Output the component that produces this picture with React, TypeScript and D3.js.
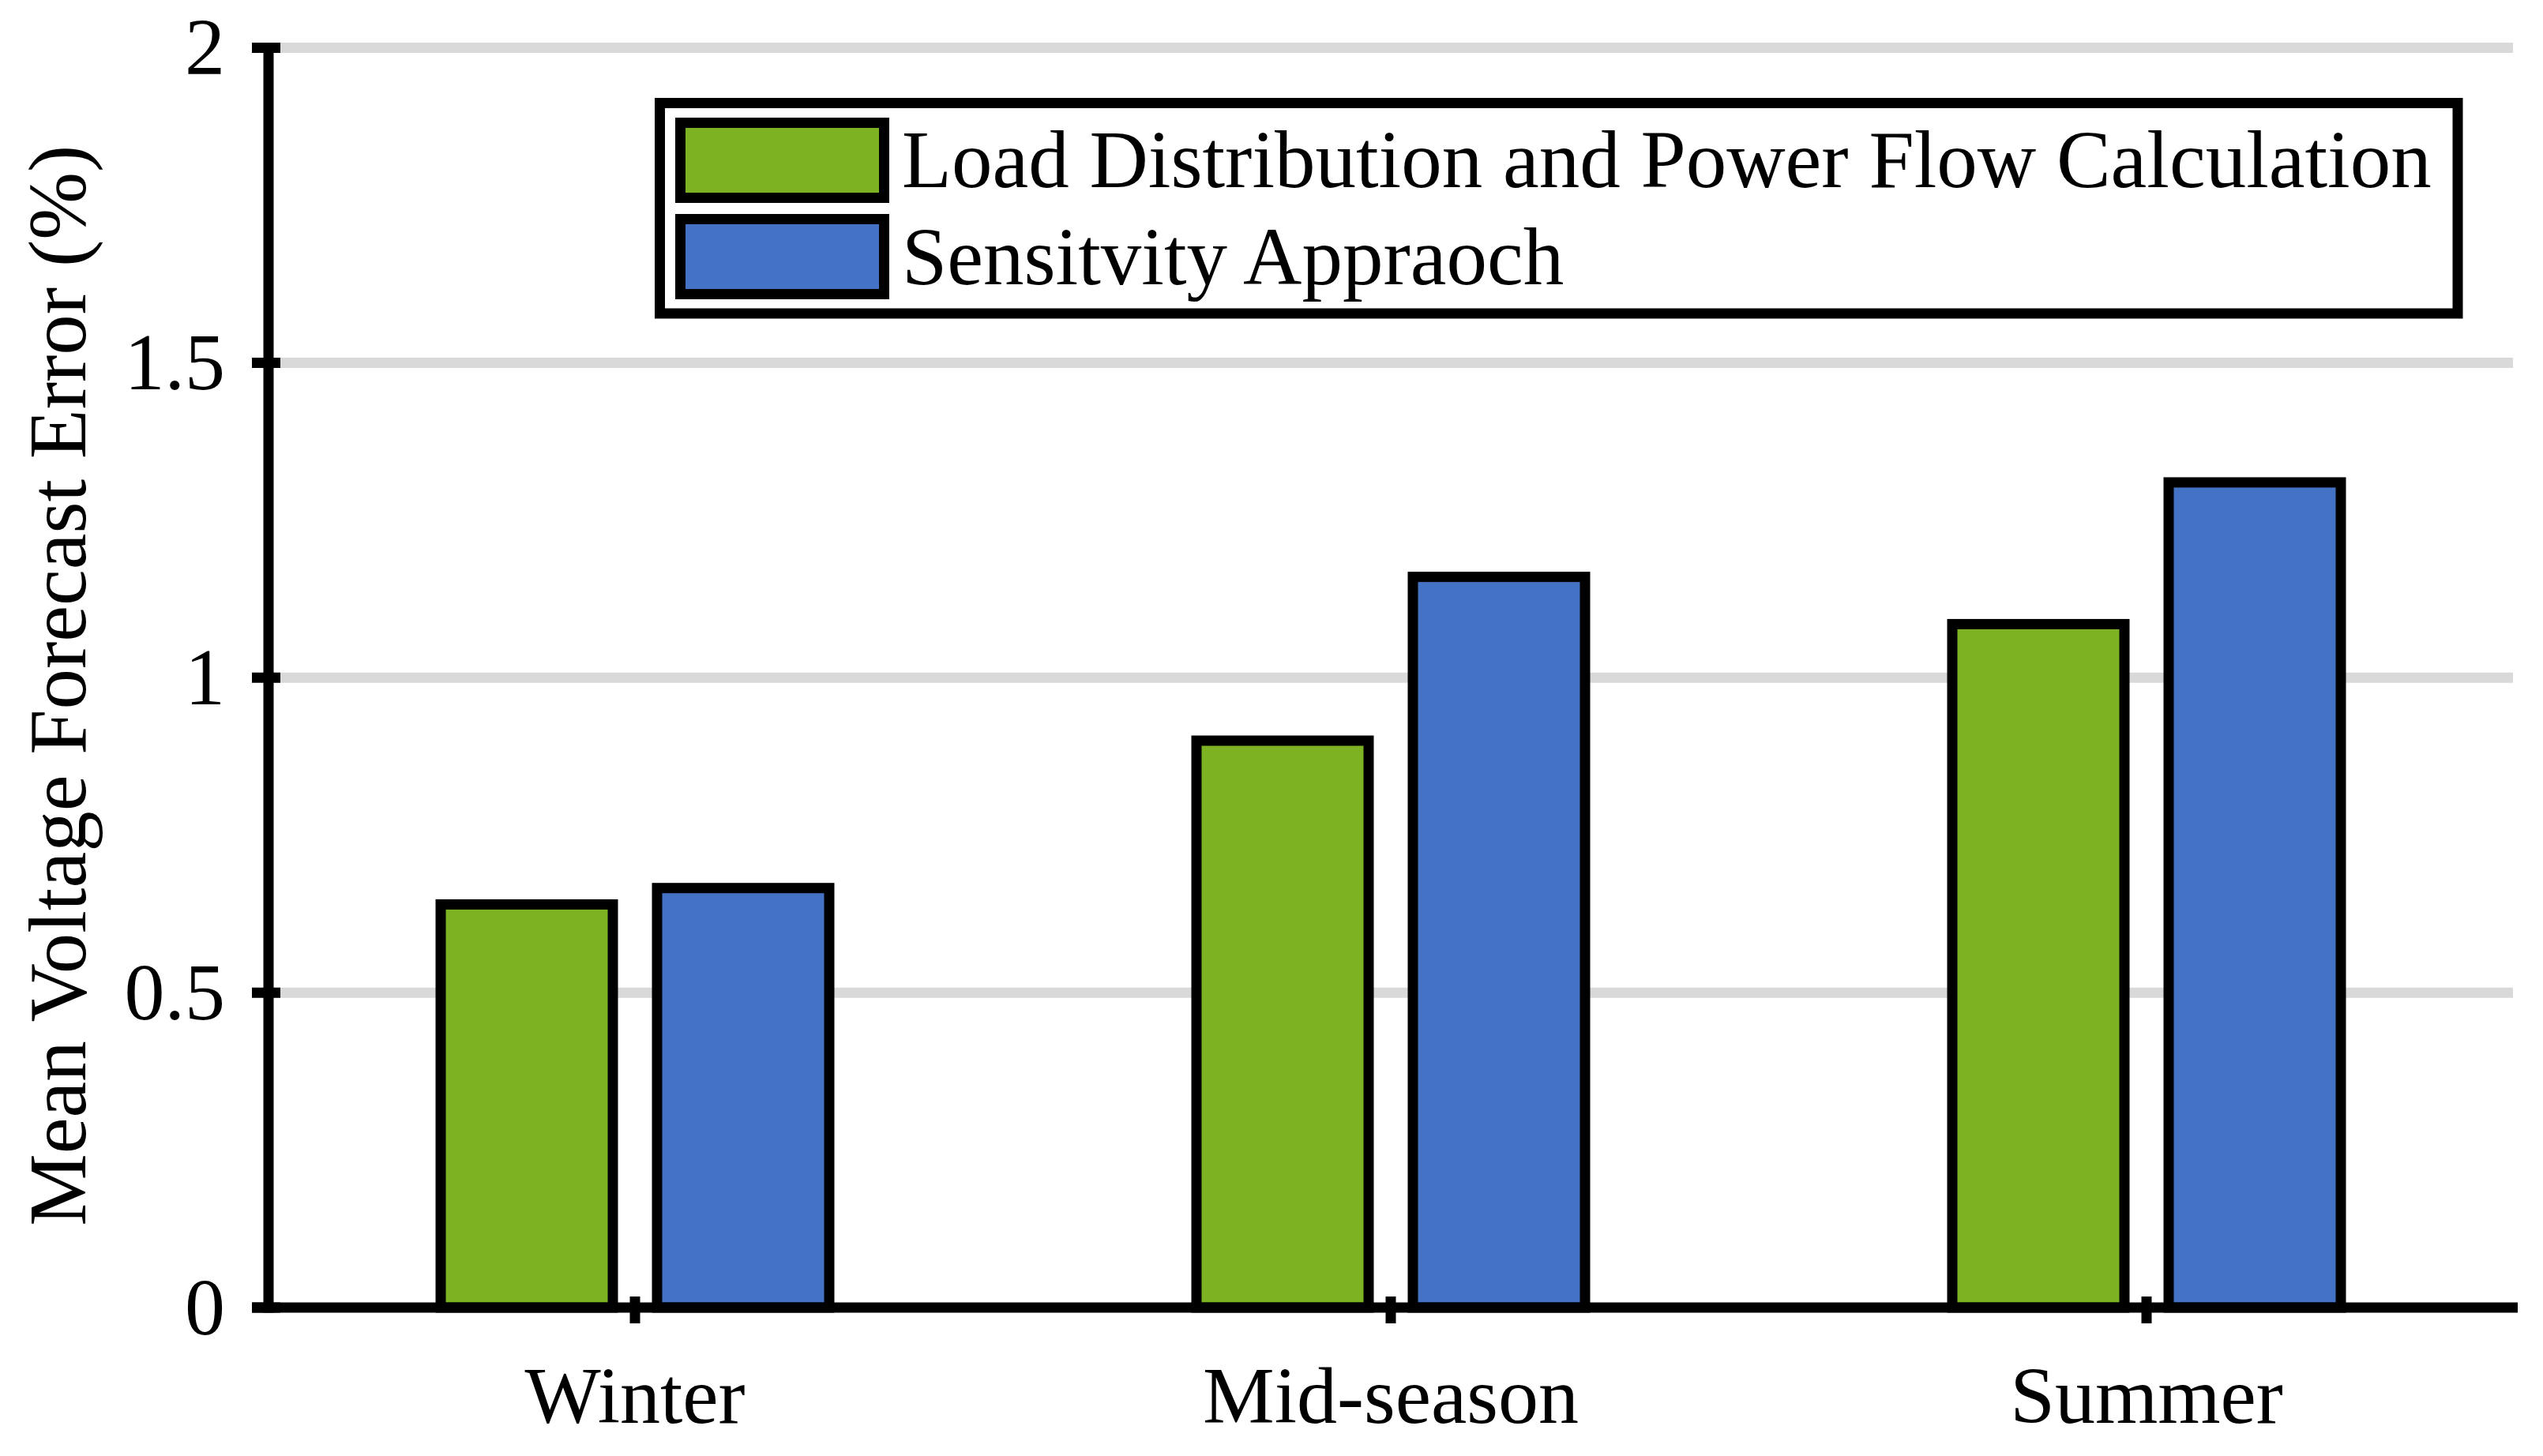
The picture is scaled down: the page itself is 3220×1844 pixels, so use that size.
import React from "react";
import * as d3 from "d3";

const categories = ["Winter", "Mid-season", "Summer"];
const seriesNames = ["Load Distribution and Power Flow Calculation", "Sensitvity Appraoch"];
const loadFlowValues = [0.64, 0.9, 1.085];
const sensitivityValues = [0.666, 1.16, 1.31];
const yTicks = [0, 0.5, 1, 1.5, 2];
const yTickLabels = ["0", "0.5", "1", "1.5", "2"];
const seriesColors = ["#7DB323", "#4472C4"];
const yTitle = "Mean Voltage Forecast Error (%)";

const W = 3220;
const H = 1844;
const FONT = "'Liberation Serif', 'Times New Roman', serif";
const FS = 102;
const SW = 13;

export default function App() {
  const yAxisX = 340;
  const y = d3.scaleLinear().domain([0, 2]).range([1656, 60.5]);
  const x = d3.scaleBand<string>().domain(categories).range([325.5, 3196.5]).paddingInner(0).paddingOuter(0);
  const inner = d3.scaleBand<string>().domain(seriesNames).range([-246, 246]).paddingInner(0.2044).paddingOuter(0);
  const seriesValues = [loadFlowValues, sensitivityValues];

  return (
    <svg width={W} height={H} style={{ position: "absolute", left: 0, top: 0, display: "block", background: "#fff" }}>
      <rect x={0} y={0} width={W} height={H} fill="#fff" />
      {yTicks.filter((t) => t !== 0).map((t) => (
        <line key={"g" + t} x1={yAxisX + 7} x2={3182} y1={y(t)} y2={y(t)} stroke="#D9D9D9" strokeWidth={SW} />
      ))}
      {categories.map((c, ci) => {
        const cx = (x(c) as number) + x.bandwidth() / 2;
        return seriesNames.map((s, si) => {
          const v = seriesValues[si][ci];
          const bx = cx + (inner(s) as number);
          return (
            <rect
              key={c + s}
              x={bx}
              y={y(v)}
              width={inner.bandwidth()}
              height={y(0) - y(v)}
              fill={seriesColors[si]}
              stroke="#000"
              strokeWidth={SW}
            />
          );
        });
      })}
      <line x1={yAxisX} x2={yAxisX} y1={y(2)} y2={y(0)} stroke="#000" strokeWidth={SW} strokeLinecap="square" />
      {yTicks.map((t, i) => (
        <g key={"yt" + t}>
          <line x1={319} x2={355} y1={y(t)} y2={y(t)} stroke="#000" strokeWidth={SW} />
          <text x={285} y={y(t)} dy="0.33em" textAnchor="end" fontFamily={FONT} fontSize={FS} fill="#000">
            {yTickLabels[i]}
          </text>
        </g>
      ))}
      <line x1={319} x2={3188} y1={y(0)} y2={y(0)} stroke="#000" strokeWidth={SW} />
      {categories.map((c) => {
        const cx = (x(c) as number) + x.bandwidth() / 2;
        return (
          <g key={"xt" + c}>
            <line x1={cx} x2={cx} y1={y(0) - 14} y2={y(0) + 20} stroke="#000" strokeWidth={SW} />
            <text x={cx} y={1802} textAnchor="middle" fontFamily={FONT} fontSize={FS} fill="#000">
              {c}
            </text>
          </g>
        );
      })}
      <text
        transform={`translate(108, ${(y(0) + y(2)) / 2 + 10}) rotate(-90)`}
        textAnchor="middle"
        fontFamily={FONT}
        fontSize={FS + 1}
        fill="#000"
      >
        {yTitle}
      </text>
      <rect x={835.5} y={130.5} width={2276.5} height={266.5} fill="#fff" stroke="#000" strokeWidth={SW} />
      {seriesNames.map((s, i) => (
        <g key={"lg" + s}>
          <rect x={861.5} y={155.5 + i * 122} width={258} height={95} fill={seriesColors[i]} stroke="#000" strokeWidth={SW} />
          <text x={1142} y={237 + i * 123} fontFamily={FONT} fontSize={FS + 1} fill="#000">
            {s}
          </text>
        </g>
      ))}
    </svg>
  );
}
